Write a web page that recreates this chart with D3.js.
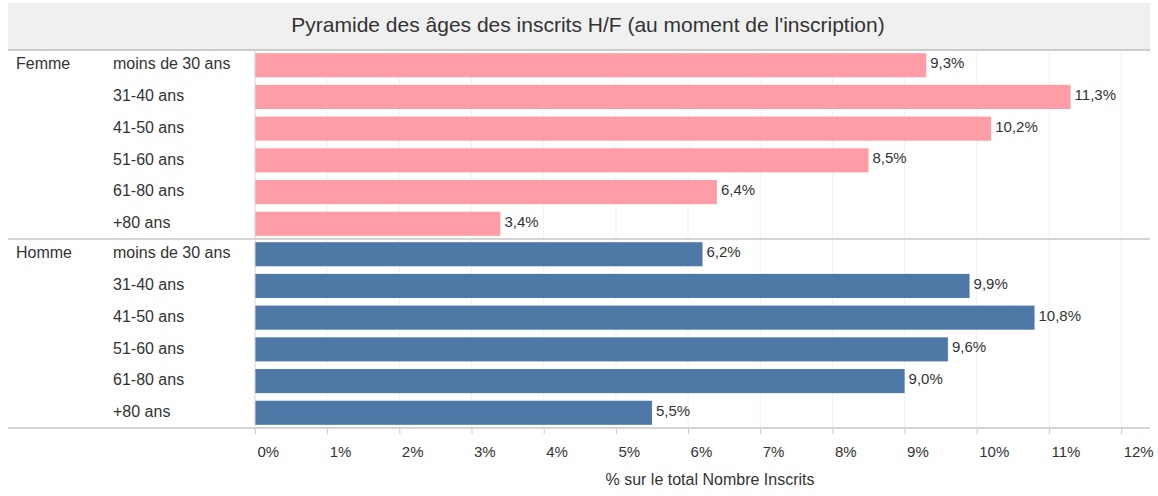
<!DOCTYPE html>
<meta charset="utf-8">
<head>
	<script src="https://d3js.org/d3.v7.min.js"></script>
	<style>
		body { margin: 0; background: #fff; }
		text { font-family: "Liberation Sans", Arial, sans-serif; fill: #333; }
	</style>
</head>
<body>
	<div id="chart"></div>
	<script>
		// data
		var title = "Pyramide des âges des inscrits H/F (au moment de l'inscription)";
		var groups = ["Femme", "Homme"];
		var ages = ["moins de 30 ans", "31-40 ans", "41-50 ans", "51-60 ans", "61-80 ans", "+80 ans"];
		var femme = [9.3, 11.3, 10.2, 8.5, 6.4, 3.4];
		var homme = [6.2, 9.9, 10.8, 9.6, 9.0, 5.5];
		var ticks = [0, 1, 2, 3, 4, 5, 6, 7, 8, 9, 10, 11, 12];
		var xTitle = "% sur le total Nombre Inscrits";
		var colors = {Femme: "#ff9da7", Homme: "#4e79a7"};

		var width = 1158, height = 496;
		var left = 8, right = 1150, plotLeft = 255;
		var plotTop = 50, plotBottom = 428;

		var svg = d3.select("#chart").append("svg")
			.attr("width", width)
			.attr("height", height);

		// header band
		svg.append("rect")
			.attr("x", left).attr("y", 3)
			.attr("width", right - left).attr("height", plotTop - 3)
			.attr("fill", "#f0f0f0");
		svg.append("text")
			.attr("x", 588).attr("y", 26)
			.attr("text-anchor", "middle").attr("dominant-baseline", "middle")
			.style("font-size", "21px")
			.text(title);

		var x = d3.scaleLinear().domain([0, 12.4]).range([plotLeft, right]);
		var gy = d3.scaleBand().domain(groups).range([plotTop, plotBottom]);
		var y = d3.scaleBand().domain(ages).range([0, gy.bandwidth()])
			.paddingInner(0.24).paddingOuter(0.1);

		// grid
		svg.append("g").selectAll("line")
			.data(ticks.slice(1))
			.enter().append("line")
			.attr("x1", d => x(d)).attr("x2", d => x(d))
			.attr("y1", plotTop).attr("y2", plotBottom)
			.attr("stroke", "#f0f0f0");

		var rows = groups.map(g => ages.map((a, i) => ({group: g, age: a, value: (g === "Femme" ? femme : homme)[i]})));

		var sect = svg.selectAll(".sect")
			.data(rows)
			.enter().append("g")
			.attr("class", "sect")
			.attr("transform", (d, i) => "translate(0," + gy(groups[i]) + ")");

		sect.append("text")
			.attr("x", 16).attr("y", y(ages[0]) + y.bandwidth() / 2)
			.attr("dominant-baseline", "middle")
			.style("font-size", "16px")
			.text((d, i) => groups[i]);

		sect.selectAll(".age")
			.data(d => d)
			.enter().append("text")
			.attr("class", "age")
			.attr("x", 113).attr("y", d => y(d.age) + y.bandwidth() / 2)
			.attr("dominant-baseline", "middle")
			.style("font-size", "16px")
			.text(d => d.age);

		sect.selectAll("rect")
			.data(d => d)
			.enter().append("rect")
			.attr("x", x(0)).attr("y", d => y(d.age))
			.attr("width", d => x(d.value) - x(0))
			.attr("height", y.bandwidth())
			.attr("fill", d => colors[d.group]);

		sect.selectAll(".val")
			.data(d => d)
			.enter().append("text")
			.attr("class", "val")
			.attr("x", d => x(d.value) + 4).attr("y", d => y(d.age) + y.bandwidth() / 2 - 1)
			.attr("dominant-baseline", "middle")
			.style("font-size", "15px")
			.text(d => d3.format(".1f")(d.value).replace(".", ",") + "%");

		// separators
		svg.append("line").attr("x1", left).attr("x2", right).attr("y1", plotTop).attr("y2", plotTop)
			.attr("stroke", "#cccccc").attr("stroke-width", 2);
		svg.append("line").attr("x1", left).attr("x2", right).attr("y1", gy("Homme")).attr("y2", gy("Homme"))
			.attr("stroke", "#d4d4d4").attr("stroke-width", 2);
		svg.append("line").attr("x1", plotLeft).attr("x2", plotLeft).attr("y1", plotTop).attr("y2", plotBottom)
			.attr("stroke", "#d4d4d4");

		// x axis
		var xAxis = svg.append("g")
			.attr("transform", "translate(0," + plotBottom + ")")
			.call(d3.axisBottom(x).tickValues(ticks).tickFormat(d => d + "%").tickSize(6).tickSizeOuter(0));
		xAxis.select(".domain").remove();
		xAxis.selectAll(".tick line").attr("stroke", "#c8c8c8");
		xAxis.selectAll(".tick text")
			.attr("text-anchor", "start").attr("x", 2).attr("y", 18)
			.style("font-size", "15px").attr("font-family", null).attr("fill", "#333");
		svg.append("line").attr("x1", left).attr("x2", right).attr("y1", plotBottom).attr("y2", plotBottom)
			.attr("stroke", "#d4d4d4").attr("stroke-width", 2);

		svg.append("text")
			.attr("x", 710).attr("y", 481)
			.attr("text-anchor", "middle").attr("dominant-baseline", "middle")
			.style("font-size", "16px")
			.text(xTitle);
	</script>
</body>
</html>
